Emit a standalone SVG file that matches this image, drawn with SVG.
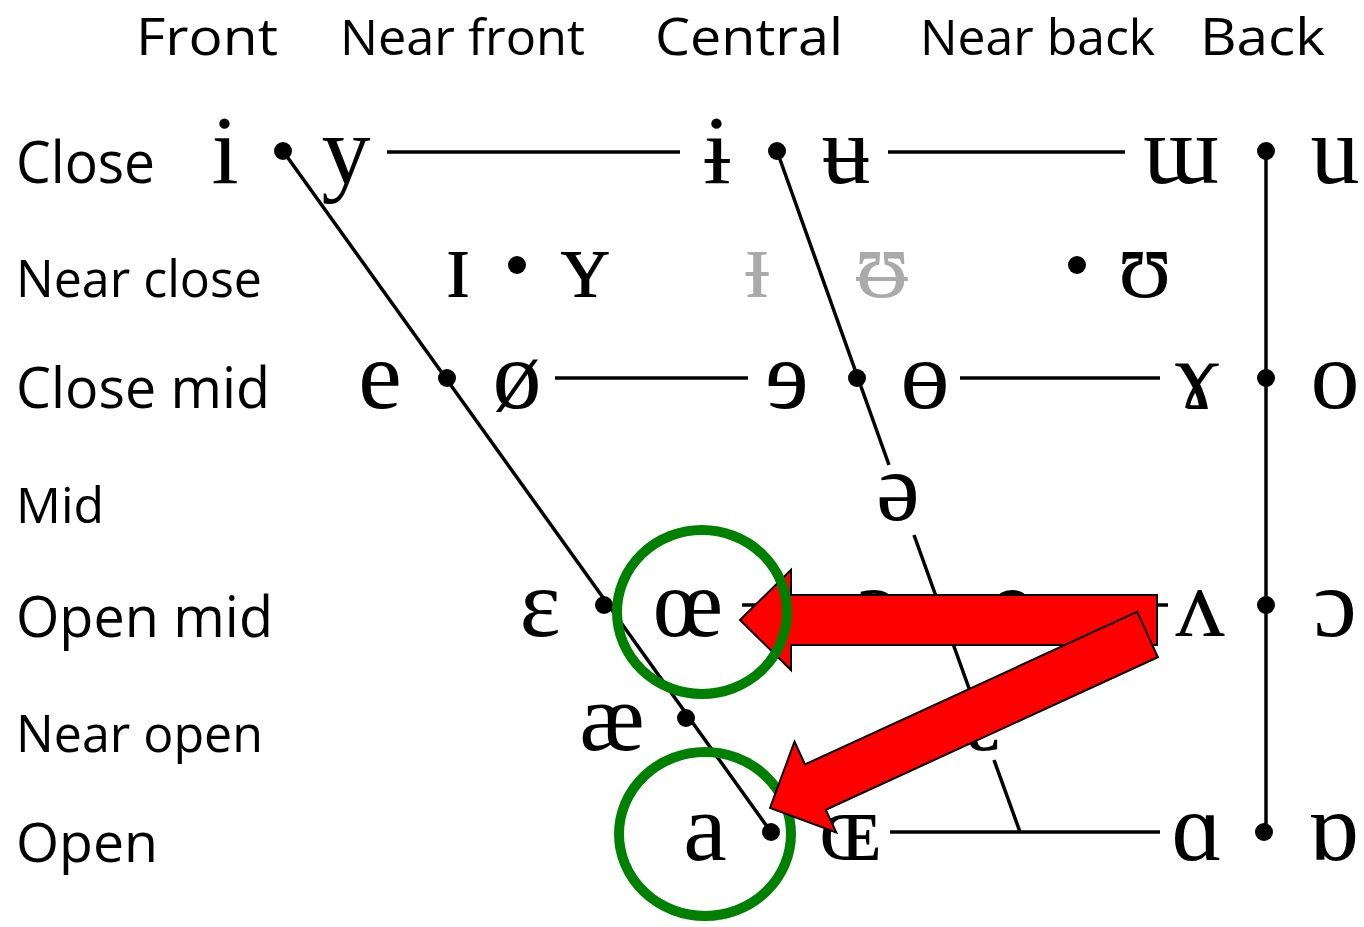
<svg xmlns="http://www.w3.org/2000/svg" width="1364" height="927" viewBox="0 0 1364 927">
<style>
.lbl{font-family:"Open Sans","Noto Sans","Liberation Sans",sans-serif;fill:#000}
.ipa{font-family:"Liberation Serif","DejaVu Serif",serif;font-size:98px;fill:#000;text-anchor:middle}
.grey{fill:#aaaaaa}
.ln{stroke:#000;stroke-width:3.5;fill:none}
.dot{fill:#000}
.ring{fill:none;stroke:#008000;stroke-width:10}
.arrow{fill:#ff0000;stroke:#000;stroke-width:2;stroke-linejoin:miter}
</style>
<rect width="1364" height="927" fill="#fff"/>
<g id="headers" class="lbl">
<text x="136" y="55" font-size="52" textLength="142" lengthAdjust="spacingAndGlyphs">Front</text>
<text x="340" y="55" font-size="49" textLength="245" lengthAdjust="spacingAndGlyphs">Near front</text>
<text x="655" y="55" font-size="52" textLength="188" lengthAdjust="spacingAndGlyphs">Central</text>
<text x="920" y="55" font-size="49" textLength="235" lengthAdjust="spacingAndGlyphs">Near back</text>
<text x="1200" y="55" font-size="52" textLength="125" lengthAdjust="spacingAndGlyphs">Back</text>
</g>
<g id="rows" class="lbl">
<text x="16" y="183" font-size="59" textLength="139" lengthAdjust="spacingAndGlyphs">Close</text>
<text x="16" y="297" font-size="52" textLength="246" lengthAdjust="spacingAndGlyphs">Near close</text>
<text x="16" y="408" font-size="56" textLength="254" lengthAdjust="spacingAndGlyphs">Close mid</text>
<text x="16" y="523" font-size="50" textLength="88" lengthAdjust="spacingAndGlyphs">Mid</text>
<text x="16" y="637" font-size="57" textLength="257" lengthAdjust="spacingAndGlyphs">Open mid</text>
<text x="16" y="752" font-size="52" textLength="247" lengthAdjust="spacingAndGlyphs">Near open</text>
<text x="16" y="862" font-size="54" textLength="142" lengthAdjust="spacingAndGlyphs">Open</text>
</g>
<g id="connectors">
<line class="ln" x1="283" y1="151" x2="771" y2="832"/>
<line class="ln" x1="777" y1="151" x2="889" y2="465"/>
<line class="ln" x1="914" y1="535" x2="975" y2="705"/>
<line class="ln" x1="994" y1="760" x2="1020" y2="832"/>
<line class="ln" x1="1266" y1="151" x2="1266" y2="832"/>
<line class="ln" x1="387" y1="152" x2="680" y2="152"/>
<line class="ln" x1="888" y1="152" x2="1125" y2="152"/>
<line class="ln" x1="555" y1="378" x2="748" y2="378"/>
<line class="ln" x1="960" y1="378" x2="1160" y2="378"/>
<line class="ln" x1="742" y1="605" x2="845" y2="605"/>
<line class="ln" x1="1045" y1="605" x2="1168" y2="605"/>
<line class="ln" x1="890" y1="832" x2="1160" y2="832"/>
</g>
<g id="dots">
<circle class="dot" cx="283" cy="151" r="9"/>
<circle class="dot" cx="777" cy="151" r="9"/>
<circle class="dot" cx="1266" cy="151" r="9"/>
<circle class="dot" cx="517" cy="265" r="9"/>
<circle class="dot" cx="1077" cy="265" r="9"/>
<circle class="dot" cx="447" cy="378" r="9"/>
<circle class="dot" cx="857" cy="378" r="9"/>
<circle class="dot" cx="1266" cy="378" r="9"/>
<circle class="dot" cx="604" cy="605" r="9"/>
<circle class="dot" cx="939" cy="605" r="9"/>
<circle class="dot" cx="1266" cy="605" r="9"/>
<circle class="dot" cx="686" cy="718" r="9"/>
<circle class="dot" cx="771" cy="832" r="9"/>
<circle class="dot" cx="1264" cy="832" r="9"/>
</g>
<g id="vowels" class="ipa">
<text x="225" y="183">i</text>
<text x="346" y="183">y</text>
<text x="717" y="183">ɨ</text>
<text x="846" y="183">ʉ</text>
<text x="1181" y="183">ɯ</text>
<text x="1335" y="183">u</text>
<text x="458" y="297">ɪ</text>
<text x="585" y="297">ʏ</text>
<text x="757" y="297" class="grey">ᵻ</text>
<text x="882" y="297" class="grey">ᵿ</text>
<text x="1145" y="297">ʊ</text>
<text x="380" y="408">e</text>
<text x="517" y="408">ø</text>
<text x="787" y="408">ɘ</text>
<text x="925" y="408">ɵ</text>
<text x="1197" y="408">ɤ</text>
<text x="1335" y="408">o</text>
<text x="898" y="520">ə</text>
<text x="540" y="636">ɛ</text>
<text x="688" y="636">œ</text>
<text x="877" y="636">ɜ</text>
<text x="1010" y="636">ɞ</text>
<text x="1200" y="636">ʌ</text>
<text x="1335" y="636">ɔ</text>
<text x="612" y="750">æ</text>
<text x="984" y="750">ɐ</text>
<text x="705" y="860">a</text>
<text x="850" y="860">ɶ</text>
<text x="1197" y="860">ɑ</text>
<text x="1333" y="860">ɒ</text>
</g>
<g id="annotations">
<ellipse id="ring-a" class="ring" cx="705" cy="834" rx="86" ry="82"/>
<polygon id="arrow-oe" class="arrow" points="740,620 791,570 791,595 1157,595 1157,645 791,645 791,670"/>
<ellipse id="ring-oe" class="ring" cx="702" cy="612" rx="85" ry="82"/>
<polygon id="arrow-a" class="arrow" points="770,808 794.5,741.7 805,764.4 1137.1,611.8 1157.9,657.2 825.8,809.8 836.3,832.5"/>
</g>
</svg>
